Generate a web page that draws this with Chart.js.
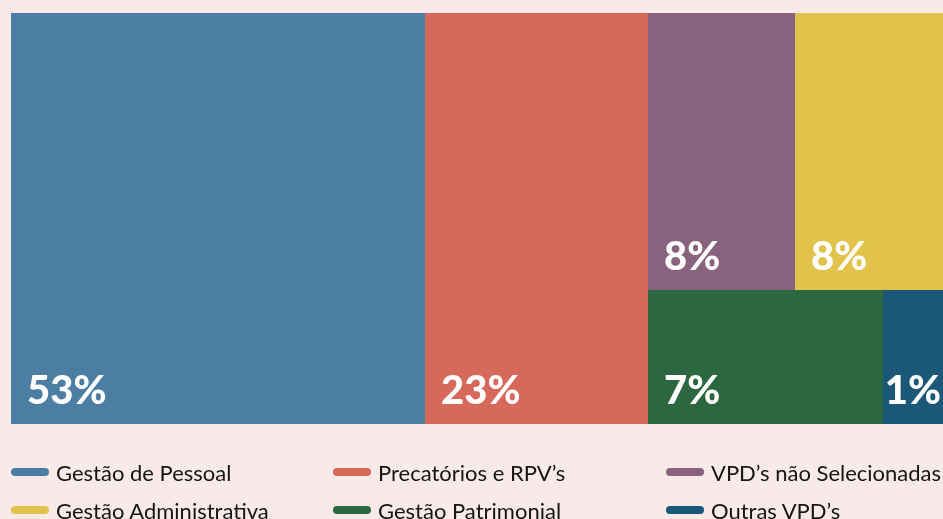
<!DOCTYPE html>
<html lang="pt">
<head>
  <meta charset="UTF-8" />
  <title>VPD - distribuição</title>
  <script src="https://cdn.jsdelivr.net/npm/chart.js"></script>
  <style>
    html, body { margin: 0; padding: 0; background: #f9eaea; }
    #wrap { position: relative; width: 943px; height: 519px; overflow: hidden; }
    #box { position: absolute; left: 0; top: 0; width: 943px; height: 424px; }
    #legenda { position: absolute; left: 0; top: 0; width: 943px; height: 519px; pointer-events: none; }
    .item { position: absolute; display: flex; align-items: center; font-family: Lato, sans-serif; font-size: 22px; color: #141414; white-space: nowrap; }
    .marca { width: 38px; height: 8px; border-radius: 4px; margin-right: 7px; }
  </style>
</head>
<body>
  <div id="wrap">
    <div id="box"><canvas id="chart"></canvas></div>
    <div id="legenda"></div>
  </div>

  <script>
    const categorias = ['Gestão de Pessoal', 'Precatórios e RPV’s', 'VPD’s não Selecionadas',
                        'Gestão Administrativa', 'Gestão Patrimonial', 'Outras VPD’s'];
    const percentuais = [53, 23, 8, 8, 7, 1];
    // peso de área de cada bloco
    const areas = [44.4, 23.9, 10.7, 10.7, 8.2, 2.1];
    const coluna = [0, 1, 2, 2, 2, 2];
    const linha = [0, 0, 0, 0, 1, 1];
    const cores = ['#4c7ea4', '#d66959', '#89627d', '#e1c24b', '#2c683f', '#1b5878'];

    // monta os retângulos (0..100 nos dois eixos) a partir das áreas
    function montarBlocos() {
      const total = areas.reduce((a, b) => a + b, 0);
      const blocos = [];
      let x0 = 0;
      const nCol = Math.max(...coluna) + 1;
      for (let c = 0; c < nCol; c++) {
        const idxCol = areas.map((_, i) => i).filter(i => coluna[i] === c);
        const somaCol = idxCol.reduce((s, i) => s + areas[i], 0);
        const larg = somaCol / total * 100;
        const nLin = Math.max(...idxCol.map(i => linha[i])) + 1;
        let y0 = 100;
        for (let l = 0; l < nLin; l++) {
          const idxLin = idxCol.filter(i => linha[i] === l);
          const somaLin = idxLin.reduce((s, i) => s + areas[i], 0);
          const alt = somaLin / somaCol * 100;
          let xx = x0;
          idxLin.forEach(i => {
            const w = areas[i] / somaLin * larg;
            blocos.push({ i: i, x1: xx, x2: xx + w, y1: y0, y2: y0 - alt });
            xx += w;
          });
          y0 -= alt;
        }
        x0 += larg;
      }
      return blocos;
    }
    const blocos = montarBlocos();

    const treemapPlugin = {
      id: 'treemap',
      beforeDatasetsDraw(chart) {
        const ctx = chart.ctx;
        const sx = chart.scales.x, sy = chart.scales.y;
        const px = v => Math.round(sx.getPixelForValue(v));
        const py = v => Math.round(sy.getPixelForValue(v));
        ctx.save();
        blocos.forEach(b => {
          ctx.fillStyle = cores[b.i];
          ctx.fillRect(px(b.x1), py(b.y1), px(b.x2) - px(b.x1), py(b.y2) - py(b.y1));
        });
        ctx.font = '900 40px Lato, sans-serif';
        ctx.fillStyle = '#ffffff';
        ctx.textBaseline = 'alphabetic';
        blocos.forEach(b => {
          const left = px(b.x1), right = px(b.x2), bottom = py(b.y2);
          const txt = percentuais[b.i] + '%';
          const tw = ctx.measureText(txt).width;
          const pad = Math.min(16, (right - left - tw) / 2);
          ctx.fillText(txt, left + pad, bottom - 20);
        });
        ctx.restore();
      }
    };

    new Chart(document.getElementById('chart'), {
      type: 'scatter',
      data: { datasets: [{ data: [] }] },
      options: {
        responsive: true,
        maintainAspectRatio: false,
        animation: false,
        layout: { padding: { left: 11, top: 13, right: 0, bottom: 0 } },
        plugins: { legend: { display: false }, tooltip: { enabled: false } },
        scales: {
          x: { type: 'linear', min: 0, max: 100, display: false },
          y: { type: 'linear', min: 0, max: 100, display: false }
        }
      },
      plugins: [treemapPlugin]
    });

    // legenda em 3 colunas
    const legenda = document.getElementById('legenda');
    const colX = [11, 333, 666];
    const rowY = [472, 510];
    categorias.forEach((nome, i) => {
      const d = document.createElement('div');
      d.className = 'item';
      d.style.left = colX[i % 3] + 'px';
      d.style.top = (rowY[Math.floor(i / 3)] - 14) + 'px';
      d.style.height = '28px';
      d.innerHTML = '<span class="marca" style="background:' + cores[i] + '"></span><span>' + nome + '</span>';
      legenda.appendChild(d);
    });
  </script>
</body>
</html>
